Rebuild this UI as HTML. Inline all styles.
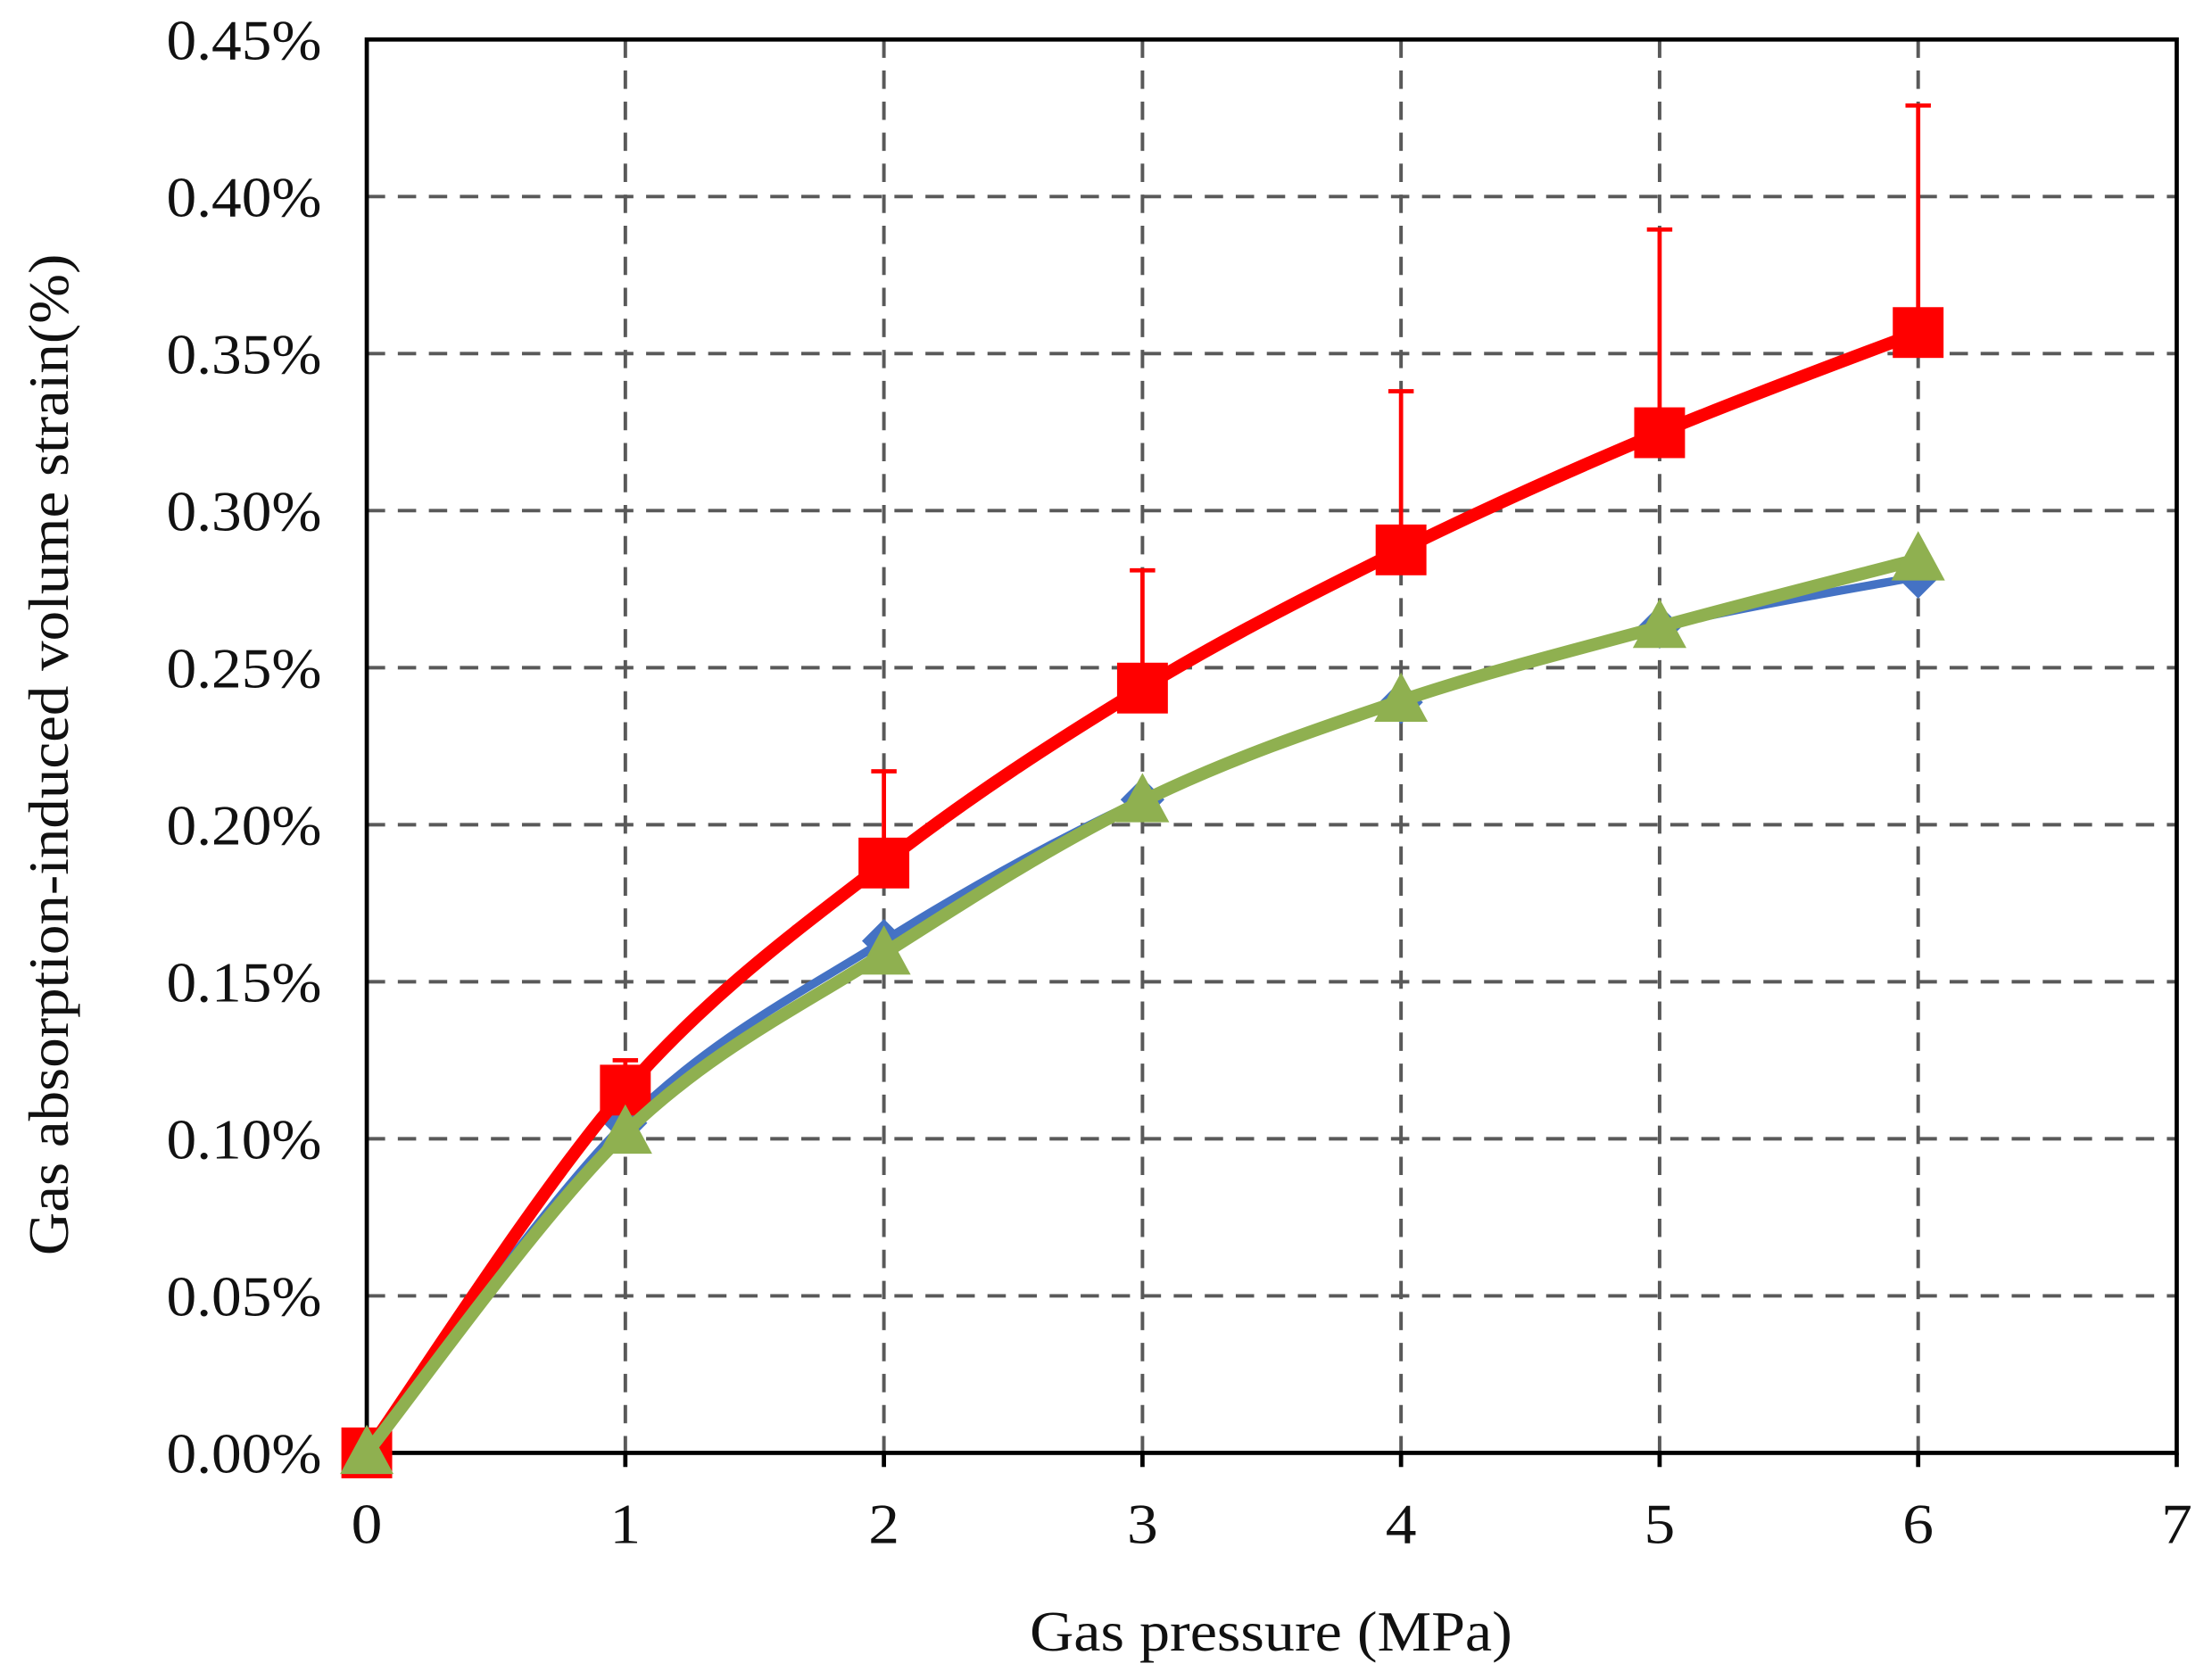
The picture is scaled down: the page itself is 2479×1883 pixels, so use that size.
<!DOCTYPE html>
<html><head><meta charset="utf-8"><style>html,body{margin:0;padding:0;background:#fff}svg{display:block}</style></head>
<body>
<svg id="s" width="2479" height="1883" viewBox="0 0 1568 1191" preserveAspectRatio="none" xmlns="http://www.w3.org/2000/svg" font-family="Liberation Serif, serif">
<rect width="1568" height="1191" fill="#fff"/>
<g id="grid" stroke="#595959" stroke-width="2.5" stroke-dasharray="13,9"></g>
<rect x="260" y="28" width="1283" height="1002" fill="none" stroke="#000" stroke-width="3"/>
<g id="ticks" stroke="#000" stroke-width="3"></g>
<g id="labels" font-size="40" fill="#111"></g>
<g id="series"></g>
<text x="730" y="1170" font-size="40" textLength="342" lengthAdjust="spacingAndGlyphs" fill="#111">Gas pressure (MPa)</text>
<text transform="translate(48,890) rotate(-90)" font-size="40" textLength="710" lengthAdjust="spacingAndGlyphs" fill="#111">Gas absorption-induced volume strain(%)</text>
</svg>
<script>
const NS="http://www.w3.org/2000/svg";
const X0=260,X1=1543,Y0=1030,Y1=28;
const px=x=>X0+(X1-X0)*x/7, py=v=>Y0-(Y0-Y1)*v/0.45;
function el(t,a,p){const e=document.createElementNS(NS,t);for(const k in a)e.setAttribute(k,a[k]);p.appendChild(e);return e;}
const g=document.getElementById('grid'),tk=document.getElementById('ticks'),lb=document.getElementById('labels'),se=document.getElementById('series');
for(let i=1;i<7;i++){el('line',{x1:px(i),x2:px(i),y1:Y1,y2:Y0},g);}
for(let j=1;j<9;j++){el('line',{x1:X0,x2:X1,y1:py(j*0.05),y2:py(j*0.05)},g);}
for(let i=0;i<=7;i++){el('line',{x1:px(i),x2:px(i),y1:Y0,y2:Y0+10},tk);const t=el('text',{x:px(i)-11,y:1094,textLength:22,lengthAdjust:'spacingAndGlyphs'},lb);t.textContent=i;}
for(let j=0;j<=9;j++){const t=el('text',{x:118,y:py(j*0.05)+14,textLength:110,lengthAdjust:'spacingAndGlyphs'},lb);t.textContent=(j*0.05).toFixed(2)+'%';}
function path(vals){const p=vals.map((v,i)=>[px(i),py(v)]);let d='M'+p[0][0]+','+p[0][1];
for(let i=0;i<p.length-1;i++){const a=p[Math.max(i-1,0)],b=p[i],c=p[i+1],e=p[Math.min(i+2,p.length-1)];
const c1=[b[0]+(c[0]-a[0])/6,b[1]+(c[1]-a[1])/6],c2=[c[0]-(e[0]-b[0])/6,c[1]-(e[1]-b[1])/6];
d+=` C${c1[0]},${c1[1]} ${c2[0]},${c2[1]} ${c[0]},${c[1]}`;}return d;}
const blue=[0,0.105,0.163,0.208,0.239,0.263,0.279];
const green=[0,0.102,0.159,0.2075,0.2395,0.263,0.2845];
const red=[0,0.1155,0.1878,0.2435,0.2875,0.3248,0.3567];
const redErr=[0,0.125,0.217,0.281,0.338,0.3895,0.429];
redErr.forEach((e,i)=>{if(i>0){el('line',{x1:px(i),x2:px(i),y1:py(red[i]),y2:py(e),stroke:'#ff0000','stroke-width':3},se);el('line',{x1:px(i)-9,x2:px(i)+9,y1:py(e),y2:py(e),stroke:'#ff0000','stroke-width':3},se);}});
el('path',{d:path(blue),fill:'none',stroke:'#4472c4','stroke-width':6},se);
blue.forEach((v,i)=>{if(i>0){el('line',{x1:px(i),x2:px(i),y1:py(v)-12,y2:py(v)+12,stroke:'#4472c4','stroke-width':3},se);el('rect',{x:px(i)-11,y:py(v)-11,width:22,height:22,fill:'#4472c4',transform:`rotate(45 ${px(i)} ${py(v)})`},se);}});
el('path',{d:path(red),fill:'none',stroke:'#ff0000','stroke-width':9},se);
red.forEach((v,i)=>{el('rect',{x:px(i)-18,y:py(v)-18,width:36,height:36,fill:'#ff0000'},se);});
el('path',{d:path(green),fill:'none',stroke:'#8fb050','stroke-width':9},se);
green.forEach((v,i)=>{const x=px(i),y=py(v);el('polygon',{points:`${x},${y-20} ${x-19},${y+15} ${x+19},${y+15}`,fill:'#8fb050'},se);});
</script>
</body></html>
